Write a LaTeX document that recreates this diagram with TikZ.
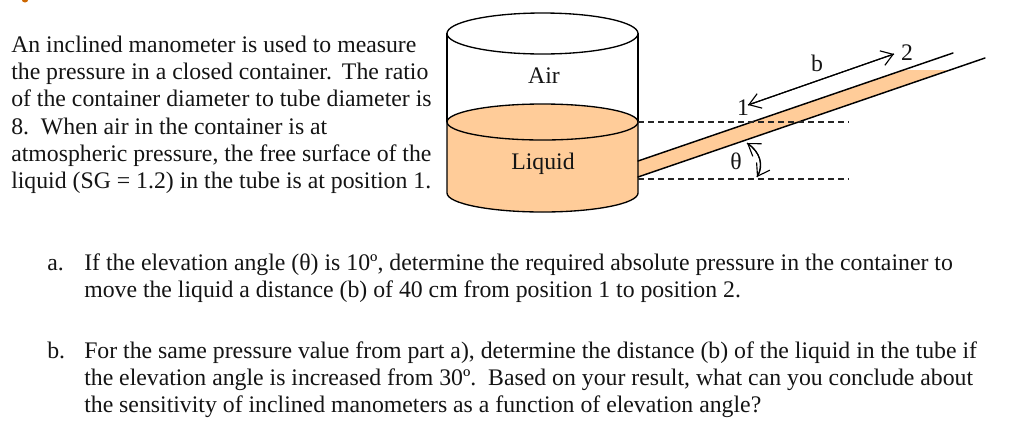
\documentclass[tikz,border=0pt]{standalone}
\usepackage{fontspec}
\setmainfont{Liberation Serif}
\usetikzlibrary{arrows.meta}
\definecolor{liq}{HTML}{FFCC99}
\tikzset{
  txt/.style={anchor=base west,inner sep=0pt,font=\fontsize{17.82pt}{20pt}\selectfont,text=black!92},
  lbl/.style={anchor=base,inner sep=0pt,font=\fontsize{17.8pt}{20pt}\selectfont,text=black!92},
  wall/.style={draw=black,line width=1pt},
  tubeline/.style={draw=black,line width=1.1pt,line cap=round},
  level/.style={draw=black!85,line width=0.8pt,dash pattern=on 4.5pt off 3pt},
  dim/.style={draw=black,line width=0.85pt,-{Straight Barb[length=8.5pt,width=11.5pt,line width=0.85pt]}}
}
\begin{document}
\begin{tikzpicture}[x=0.75pt,y=-0.75pt]
\useasboundingbox (0,0) rectangle (1024,433);
% stray mark
\fill[orange!80!black] (22,0) arc (180:0:3 and 2.5) -- cycle;
% coordinates
\coordinate (tu0) at (638,161);
\coordinate (tu1) at (953,53);
\coordinate (tl0) at (638,177);
\coordinate (tl1) at (985,58);
\coordinate (su) at (903,70);
\coordinate (sl) at (950,70);
\coordinate (d1a) at (638,122);
\coordinate (d1b) at (849,122);
\coordinate (d2a) at (638,179);
\coordinate (d2b) at (849,179);
\coordinate (p1) at (748,105);
\coordinate (p2) at (894,54);
\coordinate (t1) at (747,143);
\coordinate (t2) at (757,177);
% tube liquid
\fill[liq] (tu0) -- (su) -- (sl) -- (tl0) -- cycle;
% container liquid
\path[wall,fill=liq] (447,122) -- (447,193) arc (180:0:95.5 and 19) -- (638,122) -- cycle;
\path[wall,fill=liq] (542.5,122) ellipse (95.5 and 18);
% upper part
\draw[wall] (447,33) -- (447,122) (638,33) -- (638,122);
\path[wall,fill=white] (542.5,33.5) ellipse (95.5 and 20.5);
% tube
\draw[tubeline] (tu0) -- (tu1);
\draw[tubeline] (tl0) -- (tl1);
% levels
\draw[level] (d1a) -- (d1b);
\draw[level] (d2a) -- (d2b);
% dimension
\draw[dim] (p1) -- (p2);
\draw[dim] (p2) -- (p1);
\draw[dim] (t1) .. controls (760,152) and (764,165) .. (t2);
\draw[dim] (t2) .. controls (764,165) and (760,152) .. (t1);
% labels
\node[lbl] (air) at (544,83) {Air};
\node[lbl] (liquid) at (543,169) {Liquid};
\node[lbl] (n1) at (743,115) {1};
\node[lbl] (n2) at (907,60) {2};
\node[lbl] (nb) at (817,71) {b};
\node[lbl] (nt) at (736,169) {θ};
% text
\node[txt] (l1) at (11,52) {An inclined manometer is used to measure};
\node[txt] (l2) at (11,79) {the pressure in a closed container.\hspace{1.6pt} The ratio};
\node[txt] (l3) at (11,106) {of the container diameter to tube diameter is};
\node[txt] (l4) at (11,134) {8.\, When air in the container is at};
\node[txt] (l5) at (11,161) {atmospheric pressure, the free surface of the};
\node[txt] (l6) at (11,188) {liquid (SG = 1.2) in the tube is at position 1.};
\node[txt] (a0) at (47,270.5) {a.};
\node[txt] (a1) at (84,270.5) {If the elevation angle (θ) is 10º, determine the required absolute pressure in the container to};
\node[txt] (a2) at (84,297.5) {move the liquid a distance (b) of 40 cm from position 1 to position 2.};
\node[txt] (b0) at (47,358.5) {b.};
\node[txt] (b1) at (84,358.5) {For the same pressure value from part a), determine the distance (b) of the liquid in the tube if};
\node[txt] (b2) at (84,385.5) {the elevation angle is increased from 30º.\, Based on your result, what can you conclude about};
\node[txt] (b3) at (84,412.5) {the sensitivity of inclined manometers as a function of elevation angle?};
\end{tikzpicture}
\end{document}
